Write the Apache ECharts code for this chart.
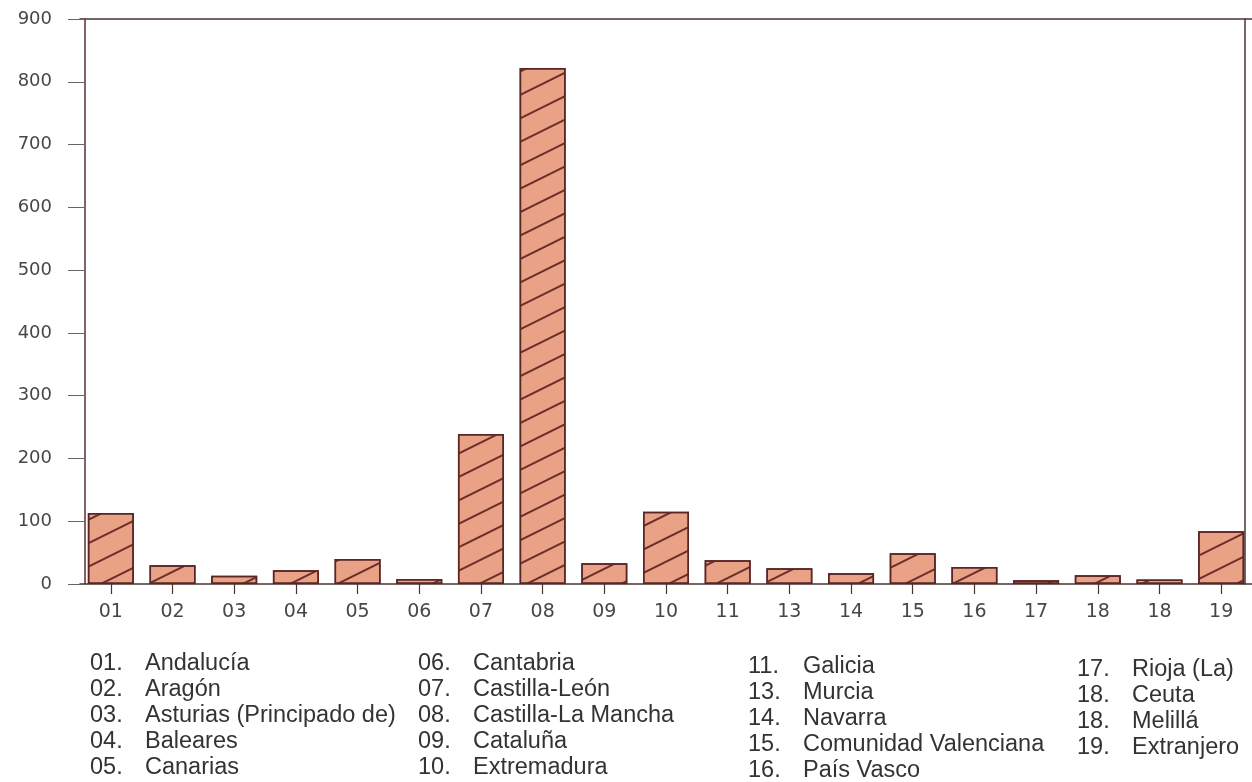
<!DOCTYPE html>
<html>
<head>
<meta charset="utf-8">
<script src="https://cdn.jsdelivr.net/npm/echarts@6/dist/echarts.min.js"></script>
<style>html,body{margin:0;padding:0;background:#fff}#c{width:1252px;height:782px}</style>
</head>
<body>
<div id="c"></div>
<script>
const codes = ['01','02','03','04','05','06','07','08','09','10','11','13','14','15','16','17','18','18','19'];
const regions = ['Andalucía','Aragón','Asturias (Principado de)','Baleares','Canarias','Cantabria','Castilla-León','Castilla-La Mancha','Cataluña','Extremadura','Galicia','Murcia','Navarra','Comunidad Valenciana','País Vasco','Rioja (La)','Ceuta','Melillá','Extranjero'];
const values = [113, 30, 13, 22, 40, 8, 239, 822, 33, 115, 38, 25, 17, 49, 27, 6, 14, 7, 84];
const yTicks = [0, 100, 200, 300, 400, 500, 600, 700, 800, 900];

// legend columns: indexes of regions per column
const legendCols = [[0,1,2,3,4],[5,6,7,8,9],[10,11,12,13,14],[15,16,17,18]];

const colX = [90, 418, 748, 1077];
const colY = [651, 651, 654, 657];
const graphics = [];
const legendFont = '23.5px "Liberation Sans", Arial, sans-serif';
legendCols.forEach((col, ci) => {
  graphics.push({
    type: 'text', left: colX[ci], top: colY[ci],
    style: { text: col.map(i => codes[i] + '.').join('\n'), font: legendFont, fill: '#333', lineHeight: 26 }
  });
  graphics.push({
    type: 'text', left: colX[ci] + 55, top: colY[ci],
    style: { text: col.map(i => regions[i]).join('\n'), font: legendFont, fill: '#333', lineHeight: 26 }
  });
});

const lineCol = '#4a3333';
const chart = echarts.init(document.getElementById('c'));
chart.setOption({
  animation: false,
  backgroundColor: '#fff',
  grid: { left: 80, right: 0, top: 19, bottom: 198, containLabel: false },
  xAxis: [{
    type: 'category', data: regions, position: 'bottom',
    axisLine: { show: true, onZero: false, lineStyle: { color: lineCol, width: 1.5 } },
    axisTick: { show: true, alignWithLabel: true, length: 10, lineStyle: { color: lineCol, width: 1.2 } },
    axisLabel: { formatter: (v, i) => codes[i], margin: 19, fontSize: 19, color: '#474747', fontFamily: '"DejaVu Sans", sans-serif' }
  }, {
    type: 'category', data: regions, position: 'top',
    axisLine: { show: true, onZero: false, lineStyle: { color: lineCol, width: 1.5 } },
    axisTick: { show: false }, axisLabel: { show: false }
  }],
  yAxis: [{
    type: 'value', min: 0, max: 900, interval: 100, position: 'left', offset: -5,
    axisLine: { show: true, onZero: false, lineStyle: { color: '#5a2e2e', width: 1.5 } },
    axisTick: { show: true, length: 17, lineStyle: { color: '#666', width: 1 } },
    splitLine: { show: false },
    axisLabel: { margin: 33, fontSize: 18, color: '#474747', fontFamily: '"DejaVu Sans", sans-serif',
      customValues: yTicks }
  }, {
    type: 'value', min: 0, max: 900, position: 'right', offset: -7,
    axisLine: { show: true, onZero: false, lineStyle: { color: lineCol, width: 1.5 } },
    axisTick: { show: false }, axisLabel: { show: false }, splitLine: { show: false }
  }],
  series: [{
    type: 'bar', data: values, barWidth: 46, xAxisIndex: 0, yAxisIndex: 0,
    itemStyle: {
      color: '#E9A285', borderColor: '#5a2525', borderWidth: 1.5,
      decal: { symbol: 'rect', symbolSize: 1, dashArrayX: [1, 0], dashArrayY: [2, 19], rotation: -0.46, color: '#6b2e2a' }
    }
  }],
  graphic: graphics
});
</script>
</body>
</html>
